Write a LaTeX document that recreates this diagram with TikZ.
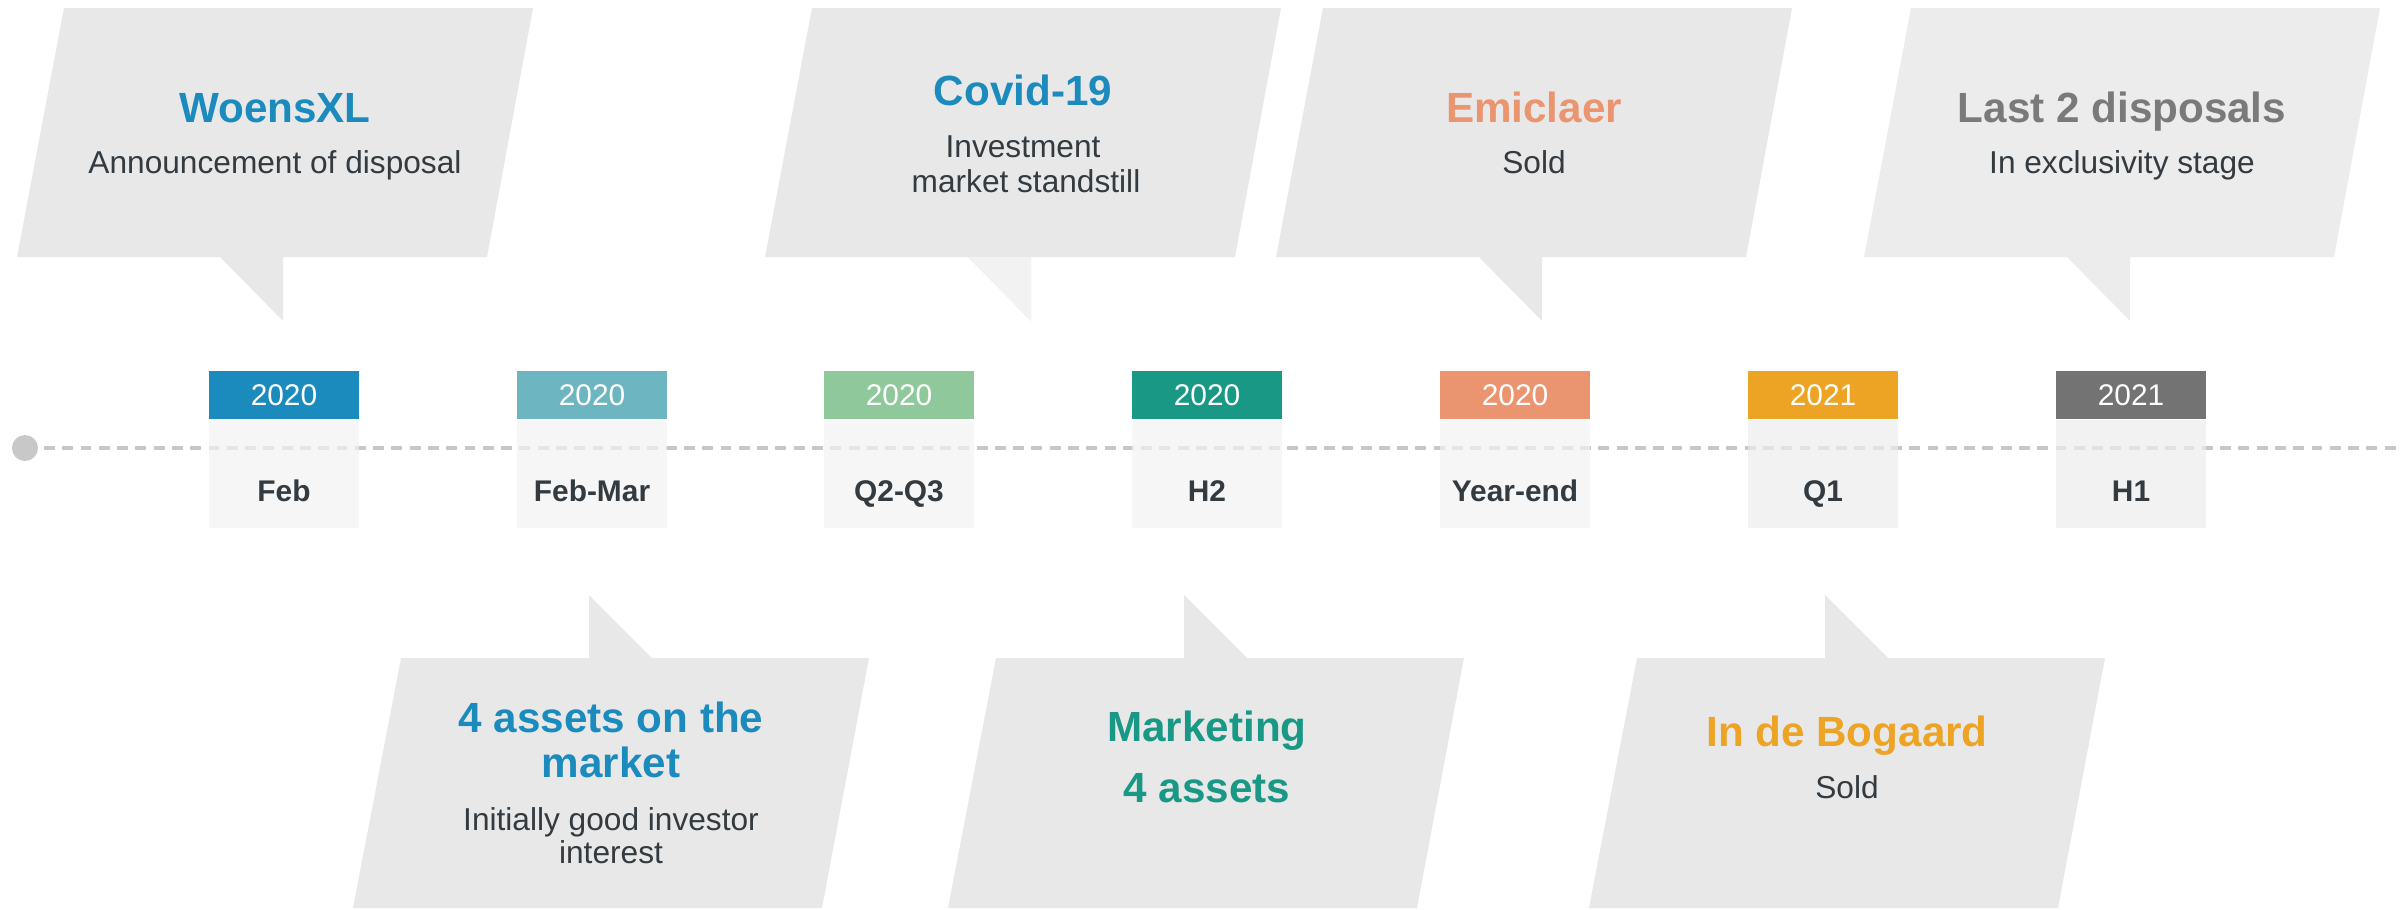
\documentclass[tikz,border=0pt]{standalone}
\usepackage{fontspec}
\setmainfont{Liberation Sans}
\usepackage{tikz}
\usetikzlibrary{positioning}
\usepackage{xcolor}

\definecolor{blueA}{HTML}{1B8ABD}
\definecolor{tealA}{HTML}{6DB5C0}
\definecolor{greenA}{HTML}{8FC89A}
\definecolor{tealB}{HTML}{1A9886}
\definecolor{salmon}{HTML}{EB9470}
\definecolor{orangeA}{HTML}{EDA323}
\definecolor{greyA}{HTML}{737373}
\definecolor{ink}{HTML}{333B40}
\definecolor{bubble}{HTML}{E8E8E8}
\definecolor{bubblelight}{HTML}{ECECEC}
\definecolor{tailgray}{HTML}{F2F2F2}
\definecolor{axisgray}{HTML}{C8C8C8}
\definecolor{panel}{HTML}{F2F2F2}
\definecolor{panelB}{HTML}{EDEDED}

\begin{document}
\begin{tikzpicture}[x=0.01cm,y=-0.01cm,
  yearbox/.style={minimum width=1.5cm,minimum height=0.48cm,inner sep=0pt,
    text=white,font=\fontsize{8.5}{9}\selectfont},
  periodbox/.style={minimum width=1.5cm,minimum height=1.08cm,inner sep=0pt,fill opacity=.7},
  periodlbl/.style={anchor=base,text=ink,font=\fontsize{8.5}{9}\selectfont\bfseries},
  ttl/.style={anchor=base,font=\fontsize{12}{13}\selectfont\bfseries},
  sub/.style={anchor=base,text=ink,font=\fontsize{9}{10}\selectfont},
  axis/.style={axisgray,line width=1.1pt,dash pattern=on 3.1pt off 2.1pt}]

\useasboundingbox (0,0) rectangle (2400,909);

% time axis
\node[circle,fill=axisgray,minimum size=0.26cm,inner sep=0pt] (start) at (25,448) {};
\coordinate (axisend) at (2400,448);
\draw[axis] ([xshift=1.5pt]start.east) -- (axisend);

% date tags
\foreach \i/\x/\col/\body/\yr/\per in {1/284/blueA/panel/2020/Feb,
    2/592/tealA/panel/2020/Feb-Mar, 3/899/greenA/panel/2020/Q2-Q3,
    4/1207/tealB/panel/2020/H2, 5/1515/salmon/panel/2020/Year-end,
    6/1823/orangeA/panelB/2021/Q1, 7/2131/greyA/panelB/2021/H1}{
  \node[yearbox,fill=\col] (yr\i) at (\x,395) {\yr};
  \node[periodbox,fill=\body,below=0pt of yr\i] (per\i) {};
  \node[periodlbl] (lbl\i) at (\x,501) {\per};
}

% callouts above the axis
\foreach \b/\c in {17/bubble,765/bubble,1276/bubble,1864/bubblelight}
  \fill[\c] (\b+47,8) -- (\b+516,8) -- (\b+470,257) -- (\b+266,257)
    -- (\b+266,321) -- (\b+203,257) -- (\b,257) -- cycle;
\fill[tailgray] (968,257) -- (1031,321) -- (1031,257) -- cycle;

% callouts below the axis
\foreach \a in {401,996,1637}
  \fill[bubble] (\a,658) -- (\a+188,658) -- (\a+188,595) -- (\a+251,658)
    -- (\a+468,658) -- (\a+421,908) -- (\a-48,908) -- cycle;

% texts
\node[ttl,text=blueA] (woens) at (275,122) {WoensXL};
\node[sub] (woensSub) at (275,173) {Announcement of disposal};

\node[ttl,text=blueA] (covid) at (1023,105) {Covid-19};
\node[sub] (covidSubA) at (1023,157) {Investment};
\node[sub] (covidSubB) at (1026,192) {market standstill};

\node[ttl,text=salmon] (emiclaer) at (1534,122) {Emiclaer};
\node[sub] (emiclaerSub) at (1534,173) {Sold};

\node[ttl,text=greyA!95] (last) at (2122,122) {Last 2 disposals};
\node[sub] (lastSub) at (2122,173) {In exclusivity stage};

\node[ttl,text=blueA] (assetsA) at (611,732) {4 assets on the};
\node[ttl,text=blueA] (assetsB) at (611,777) {market};
\node[sub] (assetsSubA) at (611,830) {Initially good investor};
\node[sub] (assetsSubB) at (611,863) {interest};

\node[ttl,text=tealB] (mktA) at (1207,741) {Marketing};
\node[ttl,text=tealB] (mktB) at (1207,802) {4 assets};

\node[ttl,text=orangeA] (bogaard) at (1847,746) {In de Bogaard};
\node[sub] (bogaardSub) at (1847,798) {Sold};
\end{tikzpicture}
\end{document}
